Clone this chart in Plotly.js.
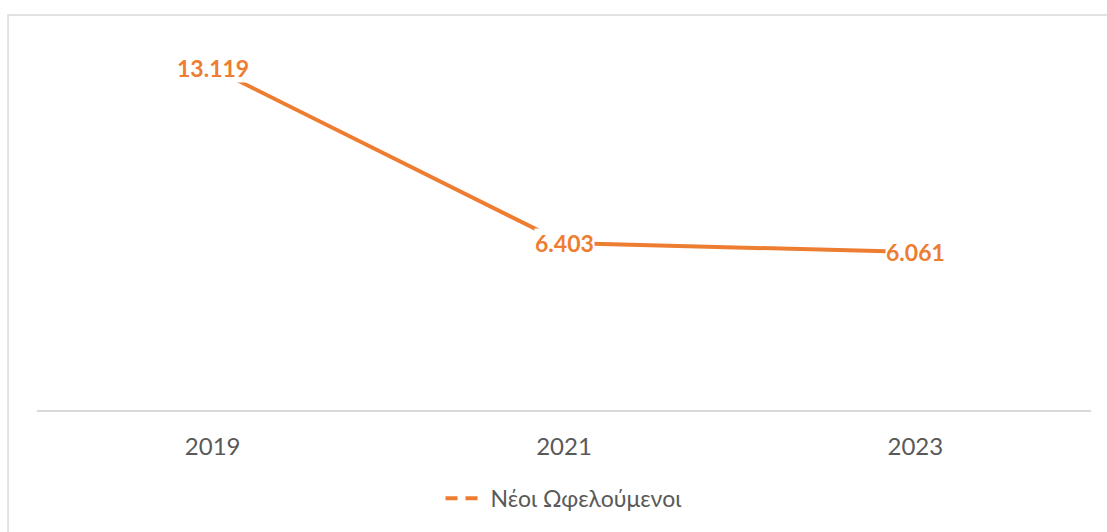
<!DOCTYPE html>
<html>
<head>
<meta charset="utf-8">
<script src="https://cdn.plot.ly/plotly-3.0.1.min.js"></script>
<style>html,body{margin:0;padding:0;background:#fff;}#chart{width:1107px;height:532px;}</style>
</head>
<body>
<div id="chart"></div>
<script>
const categories = ['2019', '2021', '2023'];
const values = [13119, 6403, 6061];
const seriesName = 'Νέοι Ωφελούμενοι';

const ORANGE = '#ED7D31';
const FONT = 'Lato, "Open Sans", sans-serif';

function fmt(v) {
  return String(v).replace(/\B(?=(\d{3})+(?!\d))/g, '.');
}

const xIdx = categories.map((c, i) => i);

const traces = [
  {
    type: 'scatter', mode: 'lines',
    x: xIdx, y: values,
    line: {color: ORANGE, width: 4},
    showlegend: false, hoverinfo: 'skip'
  },
  {
    type: 'scatter', mode: 'lines',
    x: [null], y: [null],
    name: seriesName,
    line: {color: ORANGE, width: 4, dash: '12px,8px'},
    showlegend: true
  }
];

const annotations = values.map((v, i) => ({
  x: i, y: v, xref: 'x', yref: 'y',
  text: '<b>' + fmt(v) + '</b>',
  showarrow: false,
  font: {family: FONT, size: 23, color: ORANGE},
  bgcolor: '#ffffff',
  borderpad: 0,
  xanchor: 'center', yanchor: 'middle'
}));

const layout = {
  width: 1107, height: 532,
  margin: {l: 37, r: 16, t: 19, b: 119, pad: 0},
  paper_bgcolor: '#ffffff', plot_bgcolor: '#ffffff',
  font: {family: FONT, color: '#595959'},
  xaxis: {
    range: [-0.5, 2.5],
    tickvals: xIdx, ticktext: categories,
    showgrid: false, zeroline: false,
    showline: true, linecolor: '#D9D9D9', linewidth: 2,
    ticks: '', ticklabelstandoff: 14,
    tickfont: {family: FONT, size: 24, color: '#595959'},
    fixedrange: true
  },
  yaxis: {
    range: [0, 15000],
    visible: false, showgrid: false, zeroline: false,
    fixedrange: true
  },
  showlegend: true,
  legend: {
    orientation: 'h', x: 0.5, xanchor: 'center',
    y: -0.226, yanchor: 'middle',
    font: {family: FONT, size: 23, color: '#595959'},
    itemwidth: 40
  },
  annotations: annotations,
  shapes: [{
    type: 'rect', xref: 'paper', yref: 'paper',
    x0: -0.0275, x1: 1.03, y0: -0.34, y1: 1.0102,
    line: {color: '#D9D9D9', width: 1.5},
    fillcolor: 'rgba(0,0,0,0)', layer: 'below'
  }]
};

Plotly.newPlot('chart', traces, layout, {displayModeBar: false, staticPlot: true});
</script>
</body>
</html>
